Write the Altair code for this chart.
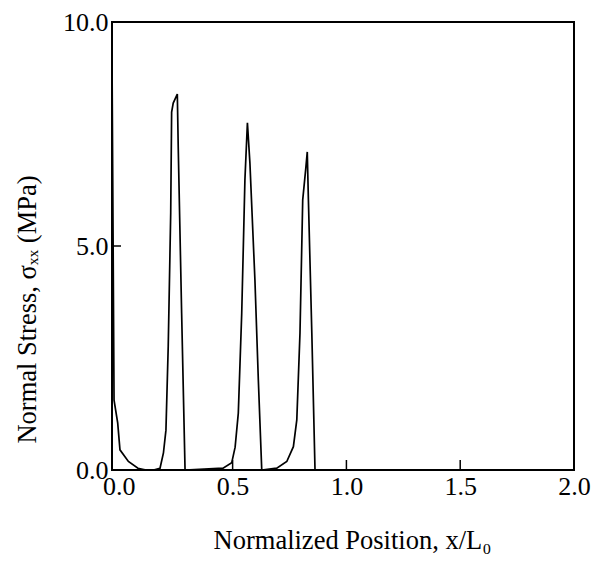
import altair as alt
import pandas as pd

# Curve
x_pos = [-0.03, -0.021, -0.005, 0.005, 0.042, 0.084, 0.12,
         0.152, 0.181, 0.196, 0.207, 0.217, 0.228, 0.232, 0.239, 0.257, 0.261, 0.276, 0.291,
         0.458, 0.496, 0.511, 0.525, 0.540, 0.547, 0.554, 0.565, 0.576, 0.598, 0.613, 0.628,
         0.694, 0.738, 0.767, 0.782, 0.796, 0.808, 0.822, 0.828, 0.833, 0.848, 0.862,
         2.0]
stress = [9.22, 1.56, 1.05, 0.45, 0.19, 0.04, 0.0,
          0.0, 0.04, 0.38, 0.89, 2.75, 5.74, 7.99, 8.19, 8.39, 7.21, 3.50, 0.0,
          0.04, 0.16, 0.51, 1.27, 3.50, 4.98, 6.47, 7.75, 6.85, 4.24, 2.01, 0.0,
          0.04, 0.19, 0.52, 1.12, 3.06, 6.03, 6.76, 7.10, 6.03, 3.06, 0.0,
          0.0]

x_labels = [0.0, 0.5, 1.0, 1.5, 2.0]
y_labels = [0.0, 5.0, 10.0]
x_ticks = [0.5, 1.0, 1.5]
y_ticks = [5.0]

W, H = 462, 448
FONT = "Liberation Serif"

df = pd.DataFrame({"x": x_pos, "s": stress})
xs = alt.Scale(domain=[-0.03, 2.0], nice=False, zero=False)
ys = alt.Scale(domain=[0, 10], nice=False)

x_axis = alt.Axis(values=x_labels, format=".1f",
                  title="Normalized Position, x/L\u2080",
                  titleX=240, titleY=78, titleBaseline="alphabetic",
                  labelPadding=3, labelFlush=False)
y_axis = alt.Axis(values=y_labels, format=".1f",
                  title="Normal Stress, \u03c3\u2093\u2093 (MPa)",
                  titleX=-77, titleY=287, titleBaseline="alphabetic",
                  labelPadding=4)

line = alt.Chart(df).mark_line(color="black", strokeWidth=1.7).encode(
    x=alt.X("x:Q", scale=xs, axis=x_axis),
    y=alt.Y("s:Q", scale=ys, axis=y_axis),
)

xt = alt.Chart(pd.DataFrame({"x": x_ticks})).mark_rule(color="black", strokeWidth=1.5).encode(
    x=alt.X("x:Q", scale=xs, axis=x_axis),
    y=alt.value(H), y2=alt.value(H - 10),
)
yt = alt.Chart(pd.DataFrame({"s": y_ticks})).mark_rule(color="black", strokeWidth=1.5).encode(
    y=alt.Y("s:Q", scale=ys, axis=y_axis),
    x=alt.value(0), x2=alt.value(9),
)

chart = alt.layer(line, xt, yt).properties(
    width=W, height=H,
    autosize=alt.AutoSizeParams(type="none"),
    padding={"left": 104, "top": 14, "right": 29, "bottom": 85},
).configure_view(
    stroke="black", strokeWidth=2,
).configure_axis(
    domain=False, ticks=False, tickSize=0, grid=False,
    labelFont=FONT, labelFontSize=26, labelColor="black",
    titleFont=FONT, titleFontSize=26.5, titleFontWeight="normal", titleColor="black",
)

chart.save("out.html", embed_options={"renderer": "svg", "actions": False})
